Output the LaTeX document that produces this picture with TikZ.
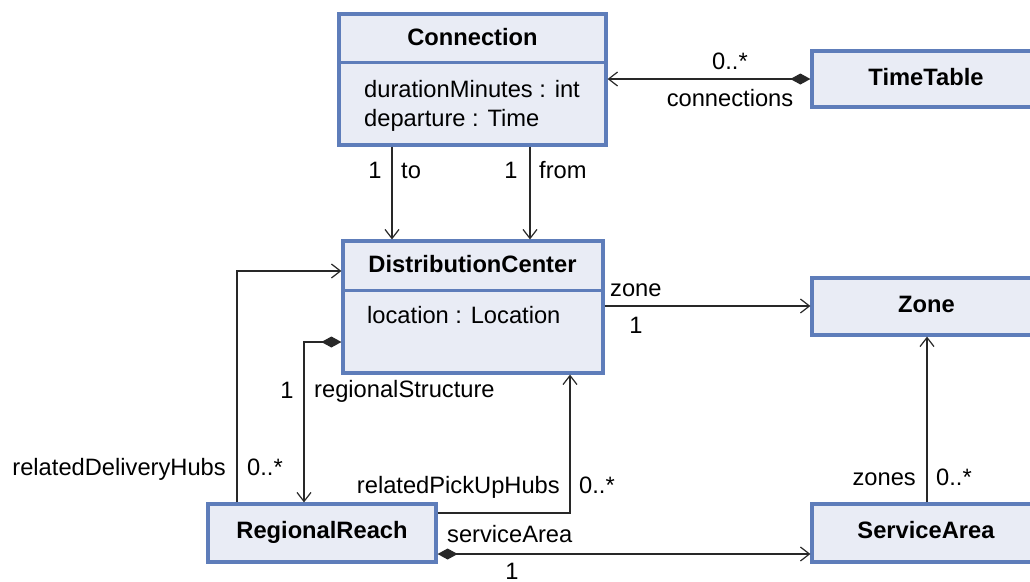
\documentclass[tikz,border=0pt]{standalone}
\usepackage{fontspec}
\setmainfont{Liberation Sans}
\usetikzlibrary{arrows.meta}
\definecolor{boxblue}{RGB}{94,125,186}
\definecolor{boxfill}{RGB}{233,236,245}
\definecolor{linegray}{RGB}{40,40,40}
\tikzset{
  umlbox/.style={draw=boxblue, fill=boxfill, line width=3.2pt, rectangle, inner sep=0pt},
  divider/.style={draw=boxblue, line width=3.2pt},
  lbl/.style={inner sep=0pt, font=\fontsize{23.7}{28}\selectfont},
  ttl/.style={inner sep=0pt, font=\fontsize{23.7}{28}\selectfont\bfseries, anchor=base},
  assoc/.style={draw=linegray, line width=1.2pt, -{Straight Barb[length=9pt,width=14pt,line width=1.2pt]}},
  comp/.style={draw=linegray, line width=1.2pt, {Diamond[length=20pt,width=11pt]}-{Straight Barb[length=9pt,width=14pt,line width=1.2pt]}},
}
\begin{document}
\begin{tikzpicture}[x=1pt,y=-1pt]
\useasboundingbox (0,0) rectangle (1030,581);
% boxes
\node[umlbox, minimum width=267pt, minimum height=131pt] (conn) at (472.5,79.5) {};
\node[umlbox, minimum width=230pt, minimum height=56pt] (tt) at (927,79) {};
\node[umlbox, minimum width=260pt, minimum height=132pt] (dc) at (473,307) {};
\node[umlbox, minimum width=230pt, minimum height=57pt] (zone) at (927,306.5) {};
\node[umlbox, minimum width=230pt, minimum height=58pt] (sa) at (927,533) {};
\node[umlbox, minimum width=228pt, minimum height=58pt] (rr) at (322,533) {};
% dividers
\draw[divider] ([yshift=-50pt]conn.north west) -- ([yshift=-50pt]conn.north east);
\draw[divider] ([yshift=-51pt]dc.north west) -- ([yshift=-51pt]dc.north east);
% titles and attributes
\node[ttl] (conntitle) at (472.5,45) {Connection};
\node[lbl, anchor=base west] (connattr1) at (364,97) {durationMinutes : int};
\node[lbl, anchor=base west] (connattr2) at (364,126) {departure : Time};
\node[ttl] (tttitle) at (926,85) {TimeTable};
\node[ttl] (dctitle) at (472.5,272) {DistributionCenter};
\node[lbl, anchor=base west] (dcattr1) at (367,323) {location : Location};
\node[ttl] (zonetitle) at (926.5,312) {Zone};
\node[ttl] (satitle) at (926,538) {ServiceArea};
\node[ttl] (rrtitle) at (322,538) {RegionalReach};
% connections
\draw[comp] (tt.west) -- (tt.west -| conn.east);
\node[lbl, anchor=base] (ttmult) at (730,69) {0..*};
\node[lbl, anchor=base] (ttrole) at (730,106) {connections};
% to / from
\draw[assoc] ([xshift=-80.5pt]conn.south) -- ([xshift=-80.5pt]conn.south |- dc.north);
\draw[assoc] ([xshift=57.5pt]conn.south) -- ([xshift=57.5pt]conn.south |- dc.north);
\node[lbl, anchor=base] (tomult) at (375,178) {1};
\node[lbl, anchor=base west] (torole) at (401,178) {to};
\node[lbl, anchor=base] (frommult) at (511,178) {1};
\node[lbl, anchor=base west] (fromrole) at (539,178) {from};
% zone
\draw[assoc] ([yshift=1pt]dc.east) -- ([yshift=1pt]dc.east -| zone.west);
\node[lbl, anchor=base west] (zonerole) at (610,296) {zone};
\node[lbl, anchor=base] (zonemult) at (636,333) {1};
% zones
\draw[assoc] (sa.north) -- (zone.south);
\node[lbl, anchor=base east] (zonesrole) at (916,485) {zones};
\node[lbl, anchor=base west] (zonesmult) at (936,485) {0..*};
% serviceArea
\draw[comp] ([yshift=-21pt]rr.east) -- ([yshift=-21pt]rr.east -| sa.west);
\node[lbl, anchor=base west] (sarole) at (447,542) {serviceArea};
\node[lbl, anchor=base] (samult) at (512,579) {1};
% regionalStructure
\draw[comp] ([yshift=-35pt]dc.west) -| ([xshift=-18pt]rr.north);
\node[lbl, anchor=base] (rsmult) at (287,398) {1};
\node[lbl, anchor=base west] (rsrole) at (314,397) {regionalStructure};
% relatedDeliveryHubs
\draw[assoc] ([xshift=-85pt]rr.north) |- ([yshift=36pt]dc.west);
\node[lbl, anchor=base east] (rdhrole) at (226,475) {relatedDeliveryHubs};
\node[lbl, anchor=base west] (rdhmult) at (247,475) {0..*};
% relatedPickUpHubs
\draw[assoc] ([yshift=20pt]rr.east) -| ([xshift=97pt]dc.south);
\node[lbl, anchor=base east] (rpurole) at (560,493) {relatedPickUpHubs};
\node[lbl, anchor=base west] (rpumult) at (579,493) {0..*};
\end{tikzpicture}
\end{document}
